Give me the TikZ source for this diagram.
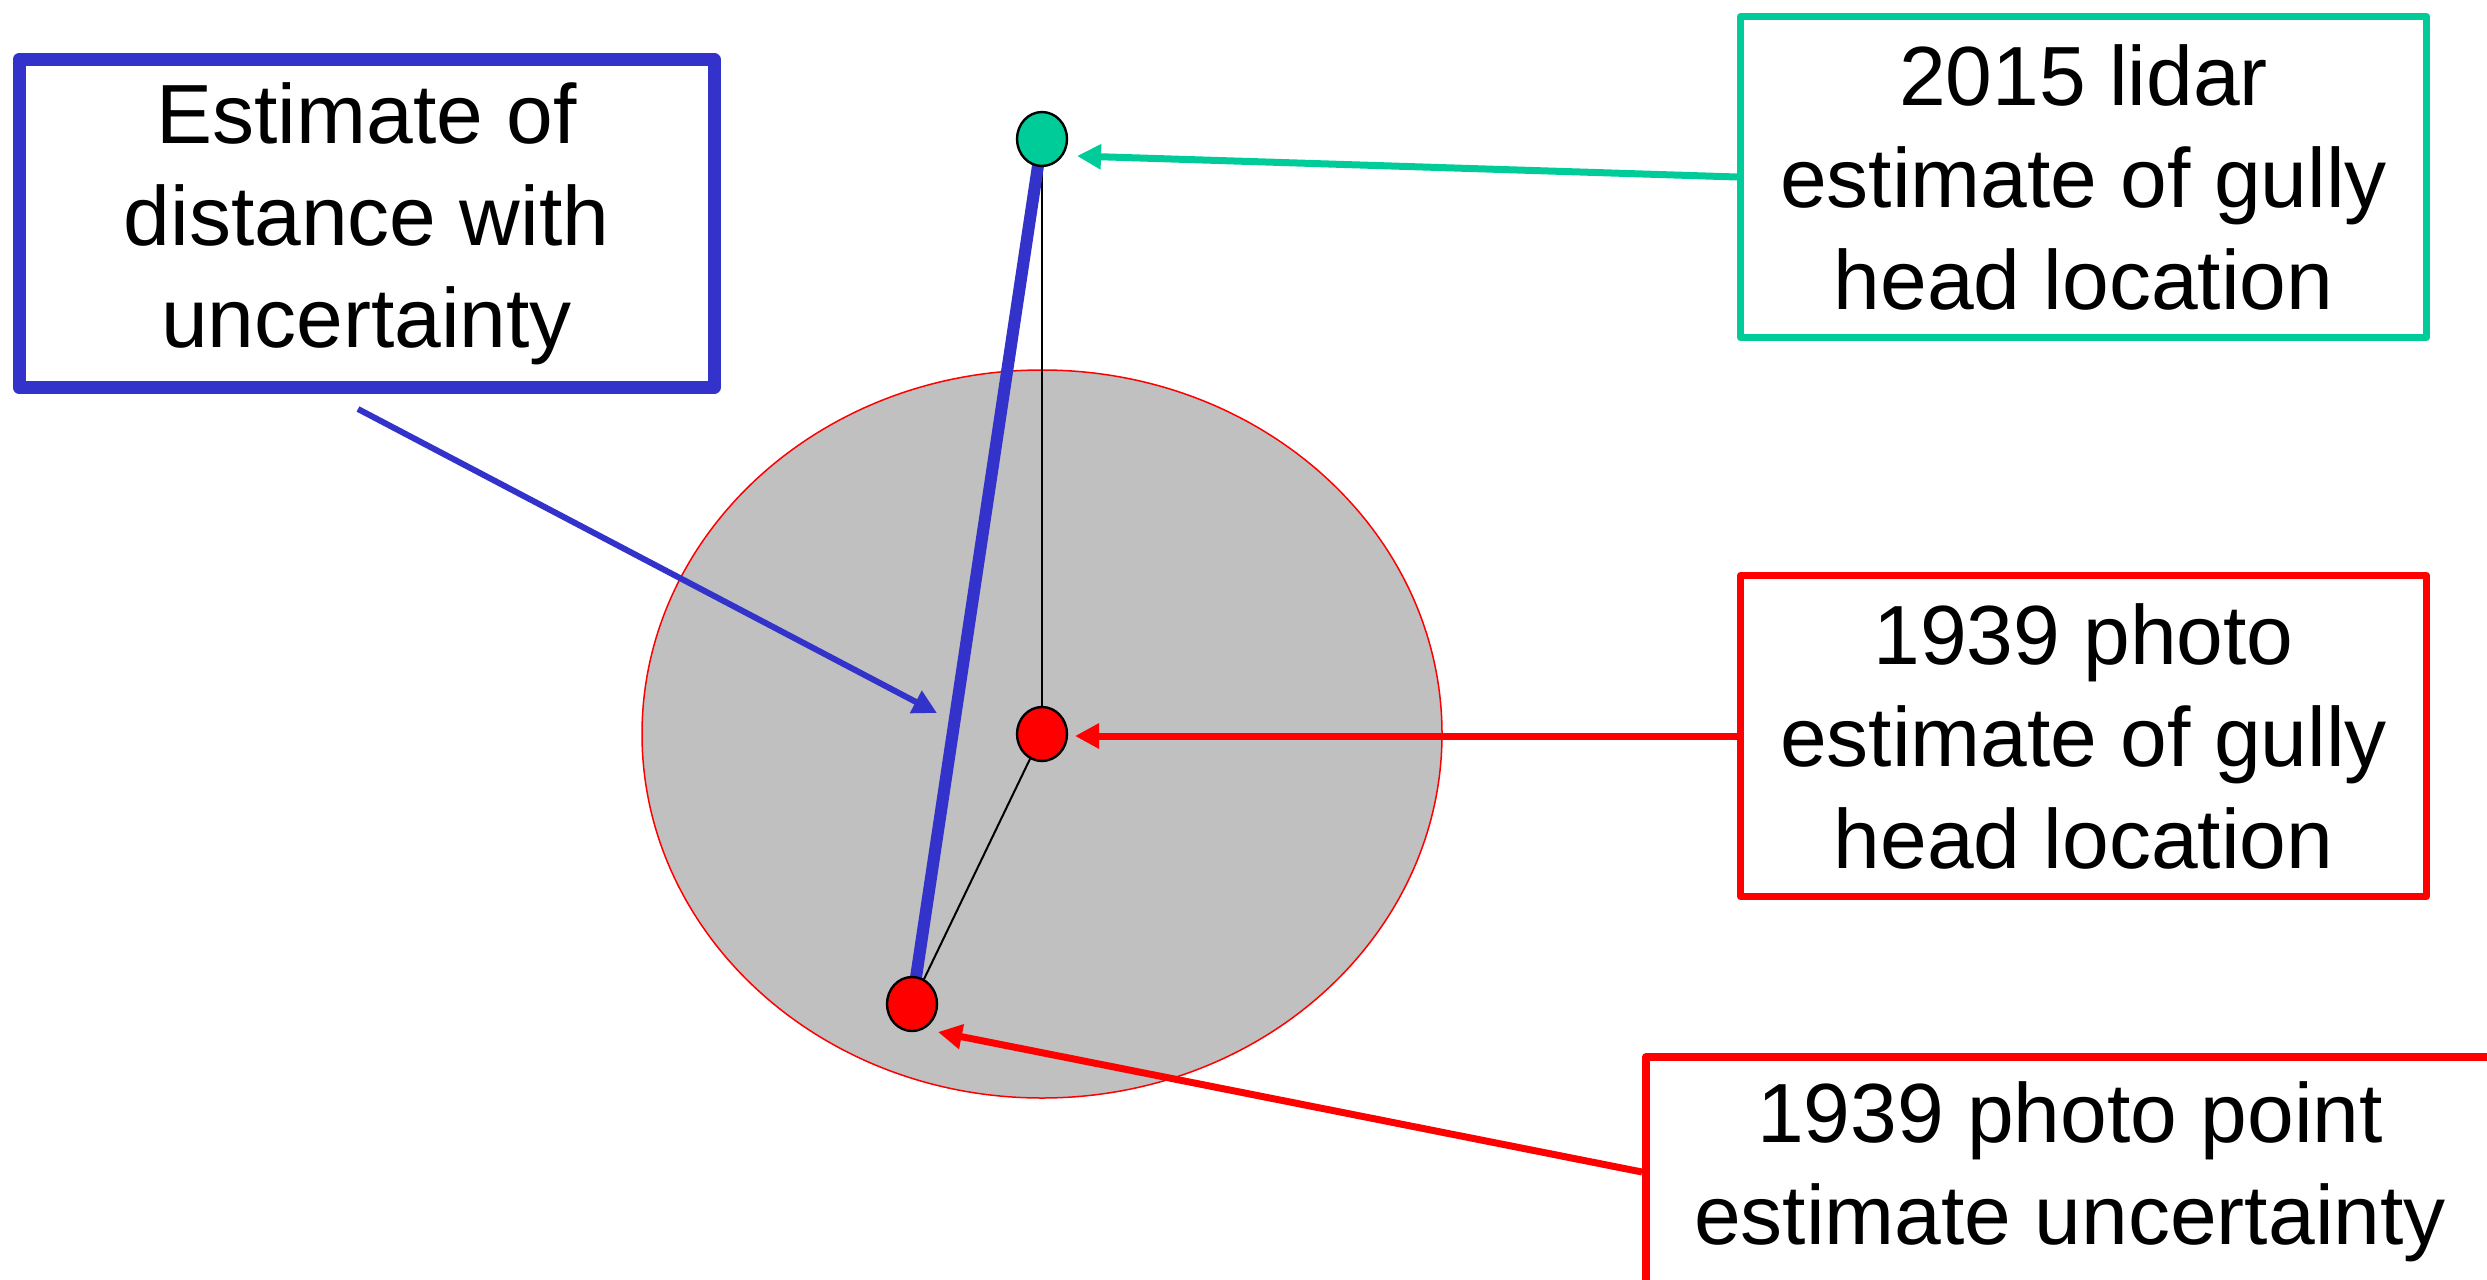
\documentclass[tikz,border=0pt]{standalone}
\usepackage{fontspec}
\setmainfont{Liberation Sans}
\usetikzlibrary{arrows.meta,shapes.geometric}
\definecolor{distblue}{HTML}{3333CC}
\definecolor{lidarteal}{HTML}{00CC99}
\definecolor{photored}{HTML}{FF0000}
\definecolor{zonegray}{HTML}{C0C0C0}
\begin{document}
\begin{tikzpicture}[x=0.5pt,y=-0.5pt,
  textbox/.style={draw, fill=white, font=\fontsize{42}{51}\selectfont,
    align=center, inner sep=0pt, line join=round, text=black},
  dot/.style={draw=black, line width=1.2pt, ellipse, inner sep=0pt,
    minimum width=25pt, minimum height=27pt},
  pointer/.style={-{Triangle[length=12pt,width=12pt]}, line width=3.5pt},
  link/.style={draw=black, line width=1pt}]
\useasboundingbox (0,0) rectangle (2487,1279);

% uncertainty zone around the 1939 photo point
\draw[photored, line width=0.75pt, fill=zonegray] (1042,734) ellipse [x radius=400, y radius=364];

% gully head positions
\coordinate (p15) at (1042,139);
\coordinate (p39) at (1042,734);
\coordinate (q39) at (912,1004);

\draw[link] (p15) -- (p39);
\draw[link] (p39) -- (q39);
\draw[distblue, line width=6pt] (p15) -- (q39);

\node[dot, fill=lidarteal] (head15) at (p15) {};
\node[dot, fill=photored] (head39) at (p39) {};
\node[dot, fill=photored] (pt39) at (q39) {};

% labels
\node[textbox, draw=distblue, line width=6.5pt, minimum width=347.5pt, minimum height=164pt]
  (distbox) at (366.5,223.5) {Estimate of\\distance with\\uncertainty};
\node[textbox, draw=lidarteal, line width=3.5pt, minimum width=343pt, minimum height=160.5pt]
  (lidarbox) at (2083.5,177) {2015 lidar\\estimate of gully\\head location};
\node[textbox, draw=photored, line width=3.5pt, minimum width=343pt, minimum height=160.5pt]
  (photobox) at (2083.5,736) {1939 photo\\estimate of gully\\head location};
\node[textbox, draw=photored, line width=4pt, minimum width=424pt, minimum height=115pt]
  (pointbox) at (2070,1172) {1939 photo point\\estimate uncertainty};

% pointers
\coordinate (distfrom) at (358,409);
\coordinate (disttip) at (937,713);
\coordinate (lidartip) at (1077,156);
\coordinate (phototip) at (1075,736);
\coordinate (pointtip) at (938,1032);

\draw[pointer, distblue, line width=3pt] (distfrom) -- (disttip);
\draw[pointer, lidarteal] (lidarbox.west) -- (lidartip);
\draw[pointer, photored] (photobox.west) -- (phototip);
\draw[pointer, photored] (pointbox.west) -- (pointtip);
\end{tikzpicture}
\end{document}
